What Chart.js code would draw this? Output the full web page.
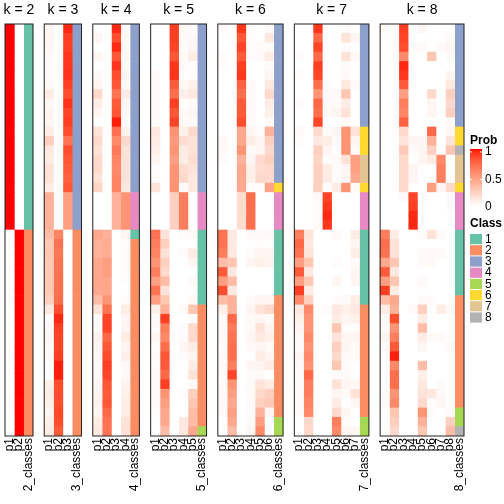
<!DOCTYPE html>
<html lang="en">
<head>
<meta charset="UTF-8">
<title>Class membership probabilities, k = 2 to 8</title>
<script src="https://cdn.jsdelivr.net/npm/chart.js"></script>
<style>
  html, body { margin: 0; padding: 0; background: #fff; }
</style>
</head>
<body>
<canvas id="heat" width="504" height="504"></canvas>
<script>
// ---- data: one row per sample (44), one column per class probability ----
const kValues = [2, 3, 4, 5, 6, 7, 8];

const probK2 = [
  [1,0],[1,0],[1,0],[1,0],[1,0],[1,0],[1,0],[1,0],[1,0],[1,0],[1,0],
  [1,0],[1,0],[1,0],[1,0],[1,0],[1,0],[1,0],[1,0],[1,0],[1,0],[1,0],
  [0,1],[0,1],[0,1],[0,1],[0,1],[0,1],[0,1],[0,1],[0,1],[0,1],[0,1],
  [0,1],[0,1],[0,1],[0,1],[0,1],[0,1],[0,1],[0,1],[0,1],[0,1],[0,1]
];
const probK3 = [
  [.05,0,.95],[.05,0,.9],[.04,0,.9],[.03,0,.92],[.02,0,.92],[.02,0,.93],
  [.03,0,.9],[.1,0,.85],[.04,0,.93],[.06,0,.88],[.05,0,.9],[.1,0,.85],
  [.25,0,.7],[.12,0,.85],[.1,0,.82],[.15,0,.8],[.15,0,.78],[.1,0,.82],
  [.4,0,.5],[.4,0,.5],[.4,0,.5],[.4,0,.5],
  [.35,.62,0],[.28,.7,0],[.3,.68,0],[.28,.7,0],[.28,.7,0],[.28,.7,0],
  [.28,.7,0],[.25,.72,0],[.12,.85,0],[.02,.95,0],[.04,.9,0],[.05,.88,0],
  [.03,.88,0],[.03,.9,0],[0,.97,0],[0,.97,0],[.08,.85,0],[.1,.85,0],
  [.08,.85,0],[.05,.87,0],[.08,.85,0],[.1,.8,0]
];
const probK4 = [
  [0,0,.95,.02],[.05,0,.85,.02],[0,0,.95,.03],[.05,0,.82,.03],[0,0,.92,.02],
  [.03,0,.85,.05],[.05,0,.82,.03],[.2,0,.7,.1],[.1,0,.8,.05],[.05,0,.82,.03],
  [0,0,.97,0],[.15,0,.72,.07],[.2,0,.6,.2],[.15,0,.68,.15],[.2,0,.62,.15],
  [.2,0,.6,.15],[.15,0,.62,.15],[.22,0,.62,.12],
  [0,0,.4,.55],[0,0,.4,.55],[0,0,.4,.55],[0,0,.4,.55],
  [.45,.4,0,.05],[.41,.43,0,.01],[.4,.42,0,.02],[.45,.5,0,.02],[.45,.5,0,.02],
  [.45,.46,0,.01],[.44,.46,0,0],[.35,.55,0,.02],[.15,.7,0,.1],[.03,.88,0,.05],
  [.03,.88,0,.05],[.07,.75,0,.1],[.05,.82,0,.05],[.04,.85,0,.08],[.02,.9,0,.03],
  [.02,.88,0,.03],[.04,.82,0,.06],[.06,.8,0,.08],[.07,.82,0,.1],[.05,.75,0,.1],
  [.1,.7,0,.15],[.12,.7,0,.15]
];
const probK5 = [
  [0,0,.9,.03,.02],[0,0,.9,.02,.04],[0,0,.88,.02,.05],[0,0,.82,.03,.1],
  [0,0,.92,.02,.02],[.03,0,.93,0,.02],[.03,0,.8,.03,.08],[.03,0,.72,.08,.12],
  [.02,0,.9,0,.03],[.03,0,.82,.03,.05],[.02,0,.88,.03,.03],[.12,0,.55,.08,.2],
  [.1,0,.52,.18,.15],[.08,0,.55,.1,.15],[.05,0,.5,.1,.18],[.02,0,.55,.18,.15],
  [.02,0,.55,.2,.12],[.15,0,.55,.02,.12],
  [0,0,.25,.65,0],[0,0,.25,.65,0],[0,0,.25,.65,0],[0,0,.25,.65,0],
  [.7,.15,0,.02,.03],[.65,.25,0,0,0],[.62,.15,0,.02,.1],[.55,.25,0,0,.05],
  [.65,.2,0,0,0],[.5,.35,0,0,.03],[.7,.15,0,0,0],[.5,.3,0,0,.03],
  [.08,.4,0,.03,.3],[.03,.9,0,0,.03],[.02,.65,0,.02,.2],[.05,.6,0,.02,.2],
  [.02,.72,0,.05,.1],[.03,.82,0,.02,.05],[.02,.8,0,0,.1],[.03,.75,0,0,.15],
  [.02,.9,0,0,.03],[.03,.55,0,.02,.25],[.03,.5,0,0,.3],[.02,.45,0,0,.35],
  [0,.45,0,.12,.35],[0,.35,0,.12,.45]
];
const probK6 = [
  [.02,0,.92,.02,0,.03],[0,0,.82,.02,0,.12],[0,0,.88,.02,.02,.02],
  [.02,0,.8,.02,.03,.1],[.02,0,.9,0,0,.02],[0,0,.92,0,0,.05],
  [0,0,.78,.03,0,.12],[0,0,.72,.03,0,.2],[0,0,.8,.03,0,.1],
  [0,0,.8,.03,0,.08],[0,0,.85,.02,0,.03],[0,0,.45,.05,.02,.4],
  [.03,0,.45,.1,.05,.25],[.03,0,.55,.03,.05,.2],[.02,0,.4,.05,.2,.25],
  [0,0,.45,.08,.18,.2],[0,0,.45,.08,.2,.2],[0,0,.44,.02,.02,.47],
  [0,0,.18,.72,0,0],[0,0,.18,.72,0,0],[0,0,.18,.72,0,0],[0,0,.18,.72,0,0],
  [.7,.12,0,.03,.03,.03],[.7,.12,0,0,.02,0],[.65,.12,0,.02,.05,.05],
  [.35,.3,0,.05,.08,.06],[.8,.12,0,0,0,0],[.5,.35,0,0,0,0],[.85,.12,0,0,0,0],
  [.35,.4,0,.02,.05,.05],[.08,.4,0,.05,.15,.2],[.03,.75,0,.03,.05,.02],
  [.03,.68,0,.03,.15,.05],[.03,.7,0,.05,.12,.08],[.02,.72,0,.03,.05,.03],
  [.03,.72,0,0,.1,.05],[.03,.65,0,.05,.05,.1],[.02,.88,0,.02,.03,0],
  [.02,.55,0,.03,.15,.1],[.03,.5,0,.03,.2,.25],[.03,.45,0,.02,.25,.28],
  [.03,.5,0,.02,.4,.05],[0,.45,0,.03,.5,0],[0,.35,0,.05,.6,0]
];
const probK7 = [
  [0,0,.92,0,0,.02,0],[0,0,.75,0,0,.15,.05],[0,0,.88,0,0,.02,0],
  [.02,0,.75,0,0,.15,.03],[0,0,.9,0,0,.02,0],[.02,0,.88,0,0,.03,0],
  [0,0,.72,.02,0,.12,.03],[0,0,.55,.03,.03,.3,0],[.02,0,.75,.03,.03,.1,0],
  [0,0,.72,.03,.05,.15,0],[0,0,.88,0,0,.03,0],[.03,0,.2,.02,.05,.55,.15],
  [.02,0,.12,.1,.02,.55,.05],[0,0,.25,.05,0,.55,.03],[0,0,.22,.02,.03,.15,.5],
  [0,0,.25,.1,.02,.05,.5],[0,0,.25,.1,.02,.05,.45],[0,0,.25,.02,.1,.55,.03],
  [0,0,.03,.88,0,0,0],[0,0,.02,.92,0,0,0],[0,0,.02,.95,0,0,0],[0,0,.03,.92,0,0,0],
  [.65,.15,0,0,.03,0,.1],[.75,.12,0,0,0,0,.05],[.7,.15,0,0,0,0,.1],
  [.5,.3,0,0,.02,0,.03],[.8,.12,0,0,0,0,.05],[.5,.3,0,0,.05,0,.05],
  [.9,.1,0,0,0,0,0],[.6,.25,0,0,.02,.03,.1],[.12,.6,0,.02,.12,.08,.12],
  [.08,.55,0,0,.1,.05,.08],[.05,.55,0,0,.3,.02,.02],[.03,.6,0,0,.15,.05,.05],
  [.02,.55,0,0,.25,.05,.03],[.05,.6,0,0,.2,.03,.03],[.03,.55,0,0,.3,.02,0],
  [.02,.75,0,0,.02,.03,0],[.02,.65,0,0,.15,.05,.03],[.03,.65,0,0,.05,.03,.15],
  [.03,.62,0,0,.1,0,.05],[.02,.6,0,0,.2,.05,0],[0,.2,0,0,.65,.02,0],
  [0,.2,0,0,.6,.05,.05]
];
const probK8 = [
  [.03,0,.9,0,.05,0,0,0],[0,0,.88,0,0,0,0,.03],[0,0,.85,.02,.03,0,.03,.05],
  [0,0,.6,0,0,.3,0,.03],[0,0,.95,0,0,0,0,0],[0,0,.92,0,0,0,0,.05],
  [0,0,.8,0,0,0,0,.12],[0,0,.5,0,0,.2,0,.25],[0,0,.65,0,0,.05,0,.2],
  [0,0,.62,0,0,.05,0,.25],[0,0,.78,0,0,0,0,.03],[0,0,.2,0,0,.75,0,.05],
  [0,0,.15,.05,.05,.4,0,.15],[0,0,.28,.02,.05,.25,0,.3],[0,0,.2,0,.05,.1,.6,0],
  [0,0,.2,.05,0,0,.65,0],[0,0,.2,.05,0,0,.65,0],[0,0,.2,0,0,.5,.05,.2],
  [0,0,.02,.88,.02,0,0,.02],[0,0,0,.9,0,0,0,.02],[0,0,0,.95,0,0,0,0],
  [0,0,0,.95,0,0,0,0],
  [.65,.1,0,0,.02,.15,.03,0],[.72,.15,0,0,0,0,0,0],[.7,.15,0,0,.03,.03,.03,0],
  [.45,.3,0,0,.03,.03,0,0],[.8,.12,0,0,0,0,0,0],[.5,.3,0,0,.03,0,0,0],
  [.9,.1,0,0,0,0,0,0],[.35,.45,0,0,.03,.02,0,0],[.1,.4,0,.03,.25,0,.1,.03],
  [.03,.85,0,0,.1,0,0,0],[.02,.55,0,0,.35,0,0,0],[.05,.65,0,0,.1,.03,.03,0],
  [.02,.8,0,0,.05,0,0,.03],[0,.97,0,0,0,0,0,0],[0,.6,0,0,.35,0,0,0],
  [0,.72,0,0,.08,0,0,0],[0,.72,0,0,.12,0,.02,0],[.02,.55,0,0,.15,.12,.03,0],
  [.02,.6,0,0,.2,.02,.05,0],[0,.3,0,0,.55,.02,0,.03],[0,.25,0,0,.4,0,0,.25],
  [0,.2,0,0,.3,0,0,.35]
];

const classK2 = [1,1,1,1,1,1,1,1,1,1,1,1,1,1,1,1,1,1,1,1,1,1,
                 2,2,2,2,2,2,2,2,2,2,2,2,2,2,2,2,2,2,2,2,2,2];
const classK3 = [3,3,3,3,3,3,3,3,3,3,3,3,3,3,3,3,3,3,3,3,3,3,
                 2,2,2,2,2,2,2,2,2,2,2,2,2,2,2,2,2,2,2,2,2,2];
const classK4 = [3,3,3,3,3,3,3,3,3,3,3,3,3,3,3,3,3,3,4,4,4,4,
                 1,2,2,2,2,2,2,2,2,2,2,2,2,2,2,2,2,2,2,2,2,2];
const classK5 = [3,3,3,3,3,3,3,3,3,3,3,3,3,3,3,3,3,3,4,4,4,4,
                 1,1,1,1,1,1,1,1,2,2,2,2,2,2,2,2,2,2,2,2,2,5];
const classK6 = [3,3,3,3,3,3,3,3,3,3,3,3,3,3,3,3,3,6,4,4,4,4,
                 1,1,1,1,1,1,1,2,2,2,2,2,2,2,2,2,2,2,2,2,5,5];
const classK7 = [3,3,3,3,3,3,3,3,3,3,3,6,6,6,7,7,7,6,4,4,4,4,
                 1,1,1,1,1,1,1,1,2,2,2,2,2,2,2,2,2,2,2,2,5,5];
const classK8 = [3,3,3,3,3,3,3,3,3,3,3,6,6,8,7,7,7,6,4,4,4,4,
                 1,1,1,1,1,1,1,2,2,2,2,2,2,2,2,2,2,2,2,5,5,8];

const classLabels = ['1', '2', '3', '4', '5', '6', '7', '8'];
const classColors = ['#66C2A5', '#FC8D62', '#8DA0CB', '#E78AC3',
                     '#A6D854', '#FFD92F', '#E5C494', '#B3B3B3'];
const probTicks = [0, 0.5, 1];

// ---- white -> red colour ramp, interpolated in Lab like colorRamp2 ----
function toLin(c) { c /= 255; return c <= 0.04045 ? c / 12.92 : Math.pow((c + 0.055) / 1.055, 2.4); }
function fromLin(c) {
  const v = c <= 0.0031308 ? 12.92 * c : 1.055 * Math.pow(c, 1 / 2.4) - 0.055;
  return Math.round(Math.max(0, Math.min(1, v)) * 255);
}
function rgbToLab(rgb) {
  const r = toLin(rgb[0]), g = toLin(rgb[1]), b = toLin(rgb[2]);
  const x = (0.4124 * r + 0.3576 * g + 0.1805 * b) / 0.95047;
  const y = (0.2126 * r + 0.7152 * g + 0.0722 * b);
  const z = (0.0193 * r + 0.1192 * g + 0.9505 * b) / 1.08883;
  const f = t => t > 0.008856 ? Math.cbrt(t) : 7.787 * t + 16 / 116;
  const fx = f(x), fy = f(y), fz = f(z);
  return [116 * fy - 16, 500 * (fx - fy), 200 * (fy - fz)];
}
function labToRgb(lab) {
  const fy = (lab[0] + 16) / 116, fx = fy + lab[1] / 500, fz = fy - lab[2] / 200;
  const inv = t => t > 0.206893 ? t * t * t : (t - 16 / 116) / 7.787;
  const x = inv(fx) * 0.95047, y = inv(fy), z = inv(fz) * 1.08883;
  const r = 3.2406 * x - 1.5372 * y - 0.4986 * z;
  const g = -0.9689 * x + 1.8758 * y + 0.0415 * z;
  const b = 0.0557 * x - 0.2040 * y + 1.0570 * z;
  return [fromLin(r), fromLin(g), fromLin(b)];
}
const LAB_LOW = rgbToLab([255, 255, 255]);
const LAB_HIGH = rgbToLab([255, 0, 0]);
function probColor(v) {
  const t = Math.max(0, Math.min(1, v));
  const lab = LAB_LOW.map((l, i) => l + (LAB_HIGH[i] - l) * t);
  const c = labToRgb(lab);
  return 'rgb(' + c[0] + ',' + c[1] + ',' + c[2] + ')';
}

// ---- build columns ----
const PANEL_GAP = 1.21;  // gap between panels, in column widths
const panels = [
  { k: 2, prob: probK2, cls: classK2 }, { k: 3, prob: probK3, cls: classK3 },
  { k: 4, prob: probK4, cls: classK4 }, { k: 5, prob: probK5, cls: classK5 },
  { k: 6, prob: probK6, cls: classK6 }, { k: 7, prob: probK7, cls: classK7 },
  { k: 8, prob: probK8, cls: classK8 }
];
const nRows = probK2.length;
const colCenters = [], colLabels = [], panelRanges = [], titleCenters = [], datasets = [];
let start = 0;
panels.forEach(p => {
  for (let j = 0; j < p.k; j++) {
    const cx = start + j + 0.5;
    colCenters.push(cx);
    colLabels.push('p' + (j + 1));
    datasets.push({
      data: p.prob.map((row, r) => ({ x: cx, y: [r, r + 1] })),
      backgroundColor: p.prob.map(row => probColor(row[j]))
    });
  }
  const cx = start + p.k + 0.5;
  colCenters.push(cx);
  colLabels.push(p.k + '_classes');
  datasets.push({
    data: p.cls.map((c, r) => ({ x: cx, y: [r, r + 1] })),
    backgroundColor: p.cls.map(c => classColors[c - 1])
  });
  panelRanges.push([start, start + p.k + 1]);
  titleCenters.push(start + (p.k + 1) / 2);
  start += p.k + 1 + PANEL_GAP;
});
const totalWidth = start - PANEL_GAP;

// panel borders
const borderPlugin = {
  id: 'panelBorders',
  afterDatasetsDraw(chart) {
    const ctx = chart.ctx, x = chart.scales.x, a = chart.chartArea;
    ctx.save();
    ctx.strokeStyle = '#222';
    ctx.lineWidth = 1;
    panelRanges.forEach(r => {
      const x0 = x.getPixelForValue(r[0]), x1 = x.getPixelForValue(r[1]);
      ctx.strokeRect(x0, a.top, x1 - x0, a.bottom - a.top);
    });
    ctx.restore();
  }
};

// legends on the right: Prob gradient and Class boxes
const legendPlugin = {
  id: 'sideLegend',
  afterDraw(chart) {
    const ctx = chart.ctx;
    const lx = 470, bw = 12;
    ctx.save();
    ctx.fillStyle = '#000';
    ctx.textBaseline = 'top';
    ctx.font = 'bold 12px "Liberation Sans", Arial, sans-serif';
    ctx.fillText('Prob', lx, 135);
    const gTop = 149, gBot = 206;
    for (let yy = gTop; yy < gBot; yy++) {
      ctx.fillStyle = probColor(1 - (yy - gTop + 0.5) / (gBot - gTop));
      ctx.fillRect(lx, yy, bw, 1);
    }
    ctx.font = '12px "Liberation Sans", Arial, sans-serif';
    ctx.textBaseline = 'middle';
    probTicks.forEach(v => {
      const yy = 207 - v * 55;
      ctx.strokeStyle = '#fff';
      ctx.beginPath();
      ctx.moveTo(lx, yy); ctx.lineTo(lx + 2, yy);
      ctx.moveTo(lx + bw - 2, yy); ctx.lineTo(lx + bw, yy);
      ctx.stroke();
      ctx.fillStyle = '#000';
      ctx.fillText(String(v), lx + bw + 3, yy);
    });
    ctx.textBaseline = 'top';
    ctx.font = 'bold 12px "Liberation Sans", Arial, sans-serif';
    ctx.fillText('Class', lx, 218);
    ctx.font = '12px "Liberation Sans", Arial, sans-serif';
    ctx.textBaseline = 'middle';
    classLabels.forEach((lab, i) => {
      const top = 234 + i * 11.2;
      ctx.fillStyle = classColors[i];
      ctx.fillRect(lx, top, bw, 10.2);
      ctx.fillStyle = '#000';
      ctx.fillText(lab, lx + bw + 3, top + 5.5);
    });
    ctx.restore();
  }
};

const FONT = '"Liberation Sans", Arial, sans-serif';
new Chart(document.getElementById('heat').getContext('2d'), {
  type: 'bar',
  data: { datasets: datasets },
  options: {
    responsive: false,
    animation: false,
    devicePixelRatio: 1,
    layout: { padding: { left: 5, right: 40, top: 0, bottom: 0 } },
    datasets: {
      bar: { grouped: false, barPercentage: 1, categoryPercentage: 1, borderWidth: 0 }
    },
    plugins: { legend: { display: false }, tooltip: { enabled: false }, title: { display: false } },
    scales: {
      x: {
        type: 'linear', position: 'bottom', min: 0, max: totalWidth, offset: false,
        grid: { display: false, drawTicks: false }, border: { display: false },
        afterBuildTicks: s => { s.ticks = colCenters.map(v => ({ value: v })); },
        afterFit: s => { s.height = 68; s.paddingLeft = 0; s.paddingRight = 0; },
        ticks: {
          autoSkip: false, minRotation: 90, maxRotation: 90, padding: 2,
          color: '#000', font: { family: FONT, size: 12 },
          callback: (v, i) => colLabels[i]
        }
      },
      xTop: {
        type: 'linear', position: 'top', min: 0, max: totalWidth, offset: false,
        grid: { display: false, drawTicks: false }, border: { display: false },
        afterBuildTicks: s => { s.ticks = titleCenters.map(v => ({ value: v })); },
        afterFit: s => { s.height = 24; s.paddingLeft = 0; s.paddingRight = 0; },
        ticks: {
          autoSkip: false, maxRotation: 0, padding: 5,
          color: '#000', font: { family: FONT, size: 14 },
          callback: (v, i) => 'k = ' + kValues[i]
        }
      },
      y: { type: 'linear', min: 0, max: nRows, reverse: true, display: false }
    }
  },
  plugins: [borderPlugin, legendPlugin]
});
</script>
</body>
</html>
